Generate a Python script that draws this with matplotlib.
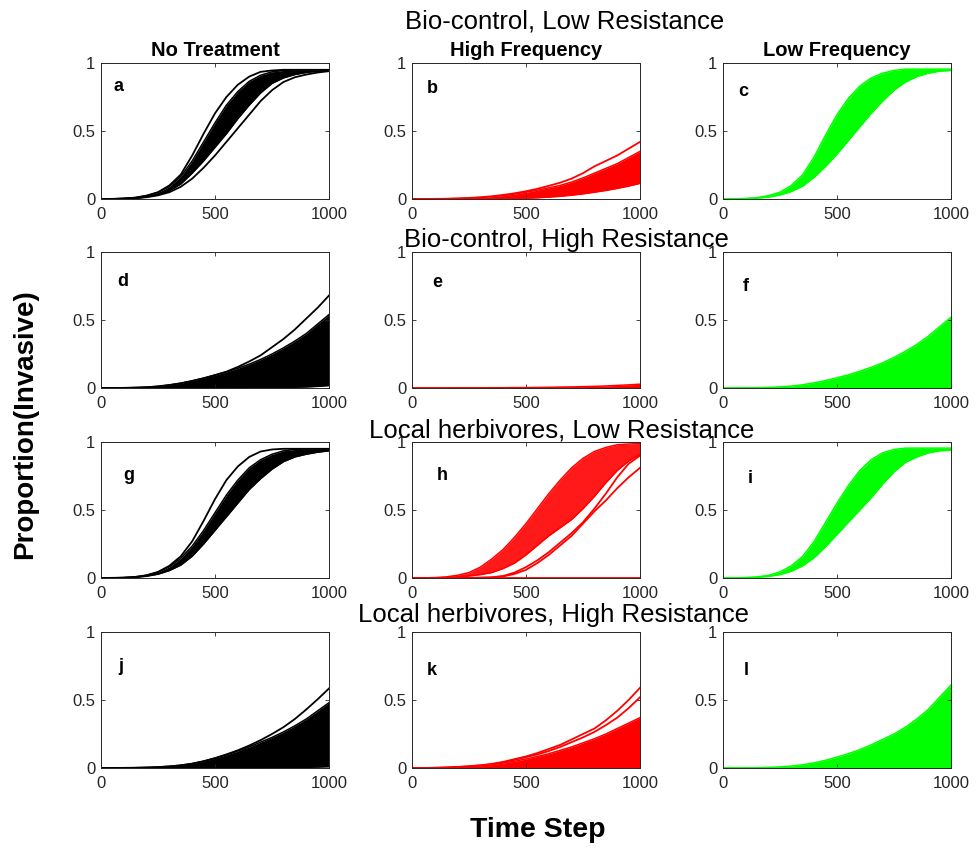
import matplotlib
matplotlib.use("Agg")
import matplotlib.pyplot as plt

plt.rcParams['font.family'] = ['Liberation Sans', 'DejaVu Sans']

# time grid the curves were read at
T = [0, 50, 100, 150, 200, 250, 300, 350, 400, 450, 500,
     550, 600, 650, 700, 750, 800, 850, 900, 950, 1000]

row_titles = ["Bio-control, Low Resistance", "Bio-control, High Resistance",
              "Local herbivores, Low Resistance", "Local herbivores, High Resistance"]
col_titles = ["No Treatment", "High Frequency", "Low Frequency"]
letters = ["a", "b", "c", "d", "e", "f", "g", "h", "i", "j", "k", "l"]
col_colors = ["#000000", "#ff0000", "#00ff00"]

# --- a: bio-control, low resistance, no treatment
a_early = [0, 0.001, 0.004, 0.01, 0.025, 0.05, 0.10, 0.18, 0.32, 0.48, 0.63,
           0.75, 0.84, 0.90, 0.935, 0.945, 0.95, 0.95, 0.95, 0.95, 0.95]
a_hi = [0, 0.001, 0.004, 0.01, 0.024, 0.048, 0.092, 0.165, 0.28, 0.42, 0.56,
        0.69, 0.79, 0.865, 0.91, 0.935, 0.945, 0.95, 0.95, 0.95, 0.95]
a_lo = [0, 0, 0.002, 0.006, 0.015, 0.03, 0.06, 0.11, 0.19, 0.28, 0.38,
        0.48, 0.59, 0.69, 0.78, 0.85, 0.89, 0.915, 0.93, 0.94, 0.945]
a_late = [0, 0, 0.002, 0.005, 0.013, 0.027, 0.05, 0.09, 0.15, 0.23, 0.32,
          0.42, 0.52, 0.62, 0.72, 0.80, 0.86, 0.895, 0.915, 0.93, 0.94]

# --- b: high frequency
b_top = [0, 0, 0.001, 0.002, 0.004, 0.008, 0.013, 0.02, 0.03, 0.042, 0.057,
         0.075, 0.097, 0.12, 0.15, 0.19, 0.24, 0.28, 0.32, 0.37, 0.42]
b_hi = [0, 0, 0.001, 0.002, 0.004, 0.007, 0.011, 0.017, 0.025, 0.036, 0.05,
        0.065, 0.082, 0.10, 0.125, 0.155, 0.19, 0.225, 0.26, 0.305, 0.35]
b_lo = [0, 0, 0, 0, 0.001, 0.001, 0.002, 0.002, 0.003, 0.004, 0.006,
        0.009, 0.014, 0.02, 0.028, 0.038, 0.05, 0.063, 0.078, 0.095, 0.115]

# --- c: low frequency
c_hi = [0, 0.001, 0.004, 0.01, 0.025, 0.05, 0.10, 0.18, 0.31, 0.47, 0.62,
        0.74, 0.83, 0.89, 0.925, 0.945, 0.955, 0.955, 0.955, 0.955, 0.955]
c_lo = [0, 0, 0.002, 0.006, 0.014, 0.03, 0.055, 0.095, 0.16, 0.24, 0.33,
        0.43, 0.53, 0.63, 0.72, 0.80, 0.86, 0.90, 0.925, 0.94, 0.945]

# --- d: bio-control, high resistance, no treatment
d_top = [0, 0, 0.001, 0.003, 0.006, 0.012, 0.022, 0.035, 0.052, 0.072, 0.095,
         0.12, 0.155, 0.195, 0.24, 0.30, 0.36, 0.43, 0.51, 0.59, 0.68]
d_hi = [0, 0, 0.001, 0.003, 0.006, 0.012, 0.022, 0.035, 0.052, 0.072, 0.095,
        0.118, 0.145, 0.175, 0.21, 0.25, 0.295, 0.345, 0.40, 0.47, 0.54]
d_lo = [0, 0, 0, 0, 0, 0, 0, 0, 0, 0, 0,
        0, 0.001, 0.001, 0.002, 0.003, 0.004, 0.006, 0.008, 0.012, 0.018]

# --- e
e_hi = [0, 0, 0, 0, 0.001, 0.001, 0.001, 0.002, 0.002, 0.003, 0.003,
        0.004, 0.005, 0.007, 0.008, 0.01, 0.012, 0.015, 0.019, 0.023, 0.028]
e_lo = [0, 0, 0, 0, 0, 0, 0, 0, 0, 0, 0,
        0, 0, 0, 0, 0, 0, 0, 0, 0, 0.001]

# --- f
f_hi = [0, 0, 0.001, 0.002, 0.004, 0.008, 0.014, 0.024, 0.038, 0.055, 0.075,
        0.097, 0.123, 0.152, 0.185, 0.225, 0.27, 0.32, 0.38, 0.45, 0.52]
f_lo = [0, 0, 0, 0, 0, 0, 0, 0, 0, 0, 0,
        0, 0, 0, 0.001, 0.001, 0.002, 0.002, 0.003, 0.004, 0.005]

# --- g: local herbivores, low resistance, no treatment
g_early = [0, 0.001, 0.003, 0.008, 0.02, 0.045, 0.09, 0.16, 0.27, 0.42, 0.58,
           0.72, 0.82, 0.89, 0.93, 0.945, 0.95, 0.95, 0.95, 0.95, 0.95]
g_hi = [0, 0.001, 0.003, 0.008, 0.02, 0.042, 0.082, 0.145, 0.235, 0.35, 0.48,
        0.61, 0.72, 0.81, 0.87, 0.91, 0.935, 0.945, 0.95, 0.95, 0.95]
g_lo = [0, 0, 0.002, 0.005, 0.013, 0.028, 0.055, 0.095, 0.16, 0.25, 0.35,
        0.45, 0.55, 0.65, 0.73, 0.80, 0.855, 0.89, 0.91, 0.925, 0.935]

# --- h
h_hi = [0, 0.001, 0.003, 0.008, 0.02, 0.04, 0.08, 0.14, 0.21, 0.30, 0.40,
        0.51, 0.62, 0.72, 0.81, 0.88, 0.93, 0.96, 0.98, 0.985, 0.99]
h_lo = [0, 0, 0.001, 0.003, 0.007, 0.015, 0.025, 0.04, 0.07, 0.11, 0.17,
        0.24, 0.31, 0.37, 0.43, 0.51, 0.60, 0.70, 0.79, 0.86, 0.91]
h_slow1 = [0, 0, 0, 0, 0, 0.001, 0.002, 0.004, 0.012, 0.03, 0.06,
           0.11, 0.17, 0.24, 0.31, 0.40, 0.49, 0.57, 0.66, 0.74, 0.81]
h_slow2 = [0, 0, 0, 0, 0, 0.001, 0.002, 0.005, 0.015, 0.04, 0.08,
           0.13, 0.19, 0.26, 0.33, 0.41, 0.51, 0.62, 0.74, 0.84, 0.90]
h_zero = [0, 0, 0, 0, 0, 0, 0, 0, 0, 0, 0,
          0, 0, 0, 0, 0, 0, 0, 0, 0, 0]

# --- i
i_hi = [0, 0.001, 0.003, 0.008, 0.02, 0.045, 0.09, 0.16, 0.27, 0.41, 0.55,
        0.68, 0.79, 0.87, 0.92, 0.945, 0.955, 0.955, 0.955, 0.955, 0.955]
i_lo = [0, 0, 0.002, 0.005, 0.012, 0.025, 0.05, 0.09, 0.15, 0.23, 0.32,
        0.41, 0.50, 0.59, 0.69, 0.78, 0.85, 0.89, 0.92, 0.935, 0.94]

# --- j: local herbivores, high resistance, no treatment
j_top = [0, 0, 0.001, 0.002, 0.004, 0.007, 0.012, 0.02, 0.032, 0.05, 0.073,
         0.10, 0.13, 0.165, 0.205, 0.25, 0.30, 0.36, 0.43, 0.505, 0.585]
j_hi = [0, 0, 0.001, 0.002, 0.004, 0.007, 0.012, 0.02, 0.032, 0.05, 0.072,
        0.097, 0.125, 0.155, 0.19, 0.225, 0.265, 0.31, 0.36, 0.42, 0.48]
j_lo = [0, 0, 0, 0, 0, 0, 0, 0, 0, 0, 0,
        0, 0, 0.001, 0.001, 0.002, 0.003, 0.004, 0.005, 0.007, 0.01]

# --- k
k_top = [0, 0, 0.002, 0.004, 0.008, 0.013, 0.02, 0.03, 0.045, 0.065, 0.085,
         0.11, 0.14, 0.17, 0.21, 0.25, 0.29, 0.35, 0.42, 0.50, 0.59]
k_second = [0, 0, 0.001, 0.003, 0.007, 0.012, 0.019, 0.028, 0.042, 0.06, 0.08,
            0.10, 0.125, 0.155, 0.19, 0.225, 0.265, 0.315, 0.37, 0.44, 0.52]
k_hi = [0, 0, 0.001, 0.003, 0.006, 0.01, 0.016, 0.025, 0.037, 0.05, 0.066,
        0.085, 0.105, 0.13, 0.155, 0.185, 0.215, 0.25, 0.29, 0.33, 0.37]
k_lo = [0, 0, 0, 0, 0, 0, 0, 0, 0, 0, 0,
        0, 0, 0, 0, 0.001, 0.001, 0.002, 0.002, 0.003, 0.004]

# --- l
l_top = [0, 0, 0.001, 0.002, 0.004, 0.008, 0.014, 0.024, 0.038, 0.057, 0.08,
         0.105, 0.135, 0.17, 0.21, 0.25, 0.30, 0.36, 0.43, 0.52, 0.61]
l_lo = [0, 0, 0, 0, 0, 0, 0, 0, 0, 0, 0,
        0, 0, 0, 0.001, 0.001, 0.002, 0.002, 0.003, 0.004, 0.005]

# band (hi, lo) plus single runs drawn on top, per panel
panels = [
    (a_hi, a_lo, [a_early, a_late]),
    (b_hi, b_lo, [b_top]),
    (c_hi, c_lo, []),
    (d_hi, d_lo, [d_top]),
    (e_hi, e_lo, []),
    (f_hi, f_lo, []),
    (g_hi, g_lo, [g_early]),
    (h_hi, h_lo, [h_slow1, h_slow2, h_zero]),
    (i_hi, i_lo, []),
    (j_hi, j_lo, [j_top]),
    (k_hi, k_lo, [k_top, k_second]),
    (l_top, l_lo, []),
]

# layout in pixels of the 977x850 original
W, H = 977.0, 850.0
col_left = [101, 412, 723]
row_top = [63, 252, 442, 632]
ax_w, ax_h = 228, 136
letter_pos = [(0.053, 0.796), (0.066, 0.782), (0.066, 0.757),
              (0.07, 0.75), (0.088, 0.74), (0.088, 0.71),
              (0.096, 0.72), (0.11, 0.72), (0.11, 0.70),
              (0.075, 0.715), (0.066, 0.684), (0.09, 0.684)]
row_title_pos = [(565, 28), (566, 247), (562, 437), (554, 622)]
edge = '#262626'

fig = plt.figure(figsize=(9.77, 8.5), dpi=100)

for k, (hi, lo, extra) in enumerate(panels):
    r, c = divmod(k, 3)
    color = col_colors[c]
    ax = fig.add_axes([col_left[c] / W, 1 - (row_top[r] + ax_h) / H, ax_w / W, ax_h / H])
    ax.fill_between(T, lo, hi, color=color, lw=0, alpha=0.9 if c == 1 and r == 2 else 1)
    ax.plot(T, hi, color=color, lw=1.1)
    ax.plot(T, lo, color=color, lw=1.1)
    for run in extra:
        ax.plot(T, run, color=color, lw=1.3)
    ax.set_xlim(0, 1000)
    ax.set_ylim(0, 1)
    ax.set_xticks([0, 500, 1000])
    ax.set_yticks([0, 0.5, 1])
    ax.set_yticklabels(['0', '0.5', '1'])
    ax.tick_params(direction='in', top=True, right=True, length=3, width=0.6,
                   colors=edge, labelsize=12, labelcolor=edge)
    ax.tick_params(axis='x', pad=6)
    ax.tick_params(axis='y', pad=4)
    for s in ax.spines.values():
        s.set_color(edge)
        s.set_linewidth(0.7)
    lx, ly = letter_pos[k]
    ax.text(lx, ly, letters[k], transform=ax.transAxes, ha='left', va='baseline',
            fontsize=13, fontweight='bold')
    if r == 0:
        ax.set_title(col_titles[c], fontsize=14.5, fontweight='bold', pad=5)

for title, (x, y) in zip(row_titles, row_title_pos):
    fig.text(x / W, 1 - y / H, title, ha='center', va='baseline', fontsize=18.5)

fig.text(25 / W, 0.501, 'Proportion(Invasive)', rotation=90, ha='center', va='center',
         fontsize=20, fontweight='bold')
fig.text(538 / W, 1 - 837 / H, 'Time Step', ha='center', va='baseline',
         fontsize=20.5, fontweight='bold')

fig.savefig('out.png', dpi=100)
